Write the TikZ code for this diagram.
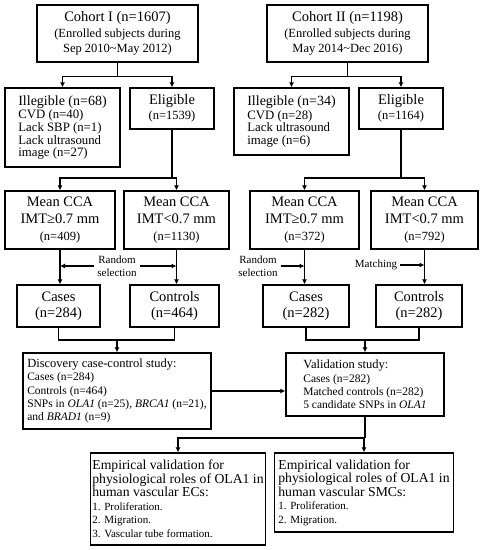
\documentclass[tikz,border=0pt]{standalone}
\usepackage{fontspec}
\setmainfont{Liberation Serif}
\usetikzlibrary{arrows.meta,calc,positioning}
\newcommand{\fbig}{\fontsize{14.5}{15.5}\selectfont}
\newcommand{\fmid}{\fontsize{12.5}{15}\selectfont}
\newcommand{\fsml}{\fontsize{11.5}{13.4}\selectfont}
\newcommand{\fexcl}{\fontsize{12.8}{12.6}\selectfont}
\tikzset{
  box/.style={draw,line width=1.3pt,align=center,inner sep=2pt,font=\fbig},
  meanbox/.style={box,minimum height=58,font=\fontsize{14.5}{17}\selectfont},
  lbox/.style={box,align=left,font=\fsml},
  link/.style={line width=1.3pt},
  arr/.style={link,-{Latex[length=5pt,width=5pt]}},
  note/.style={align=center,inner sep=3pt,font=\fontsize{11}{13}\selectfont},
}

\begin{document}
\begin{tikzpicture}[x=1pt,y=-1pt]
\useasboundingbox (0,0) rectangle (480,550);
\node[box,minimum width=161,minimum height=57] (cohA) at (117.5,33.5)
  {Cohort I (n=1607)\\{\fmid (Enrolled subjects during}\\{\fmid Sep 2010\textasciitilde May 2012)}};
\node[box,minimum width=161,minimum height=57] (cohB) at (347.5,33.5)
  {Cohort II (n=1198)\\{\fmid (Enrolled subjects during}\\{\fmid May 2014\textasciitilde Dec 2016)}};
\node[lbox,font=\fexcl,minimum width=115,minimum height=79] (illA) at (62.5,127.5)
  {{\fontsize{14}{15}\selectfont Illegible (n=68)}\\[1pt]CVD (n=40)\\Lack SBP (n=1)\\Lack ultrasound\\image (n=27)};
\node[box,minimum width=84,minimum height=41] (eligA) at (172,108.5) {Eligible\\{\fmid (n=1539)}};
\node[lbox,font=\fexcl,minimum width=115,minimum height=67] (illB) at (291.5,121.5)
  {{\fontsize{14}{15}\selectfont Illegible (n=34)}\\[1pt]CVD (n=28)\\Lack ultrasound\\image (n=6)};
\node[box,minimum width=84,minimum height=41] (eligB) at (401,108.5) {Eligible\\{\fmid (n=1164)}};
\node[meanbox,minimum width=110] (meanA1) at (60,220) {Mean CCA\\IMT≥0.7 mm\\{\fmid (n=409)}};
\node[meanbox,minimum width=105] (meanA2) at (176.5,220) {Mean CCA\\IMT<0.7 mm\\{\fmid (n=1130)}};
\node[meanbox,minimum width=109] (meanB1) at (304.5,220) {Mean CCA\\IMT≥0.7 mm\\{\fmid (n=372)}};
\node[meanbox,minimum width=107] (meanB2) at (424.5,220) {Mean CCA\\IMT<0.7 mm\\{\fmid (n=792)}};
\node[box,minimum width=83,minimum height=42] (casA) at (58.5,306) {Cases\\(n=284)};
\node[box,minimum width=89,minimum height=42] (conA) at (174.5,306) {Controls\\(n=464)};
\node[box,minimum width=86,minimum height=42] (casB) at (306,306) {Cases\\(n=282)};
\node[box,minimum width=86,minimum height=42] (conB) at (419,306) {Controls\\(n=282)};
\node[note] (randA) at (117,266) {Random\\selection};
\node[note] (randB) at (258,266) {Random\\selection};
\node[note] (matchB) at (376,265) {Matching};
\node[lbox,minimum width=188,minimum height=76] (disc) at (117,391)
  {{\fmid Discovery case-control study:}\\Cases (n=284)\\Controls (n=464)\\SNPs in \textit{OLA1} (n=25), \textit{BRCA1} (n=21),\\and \textit{BRAD1} (n=9)};
\node[lbox,minimum width=158,minimum height=63] (valid) at (365,384.5)
  {{\fmid Validation study:}\\Cases (n=282)\\Matched controls (n=282)\\5 candidate SNPs in \textit{OLA1}};
\node[lbox,font=\fontsize{11}{13.5}\selectfont,minimum width=174,minimum height=92] (ec) at (178,499)
  {{\fontsize{13.7}{15}\selectfont Empirical validation for}\\{\fontsize{13.7}{15}\selectfont physiological roles of OLA1 in}\\{\fontsize{13.7}{15}\selectfont human vascular ECs:}\\1. Proliferation.\\2. Migration.\\3. Vascular tube formation.};
\node[lbox,font=\fontsize{11}{13.5}\selectfont,minimum width=179,minimum height=79] (smc) at (364,492.5)
  {{\fontsize{13.7}{15}\selectfont Empirical validation for}\\{\fontsize{13.7}{15}\selectfont physiological roles of OLA1 in}\\{\fontsize{13.7}{15}\selectfont human vascular SMCs:}\\1. Proliferation.\\2. Migration.};

\draw[link] (cohA.south) -- ++(0,14) coordinate (jA);
\draw[arr] (jA) -| (illA.north);
\draw[arr] (jA) -| (eligA.north);
\draw[link] (cohB.south) -- ++(0,14) coordinate (jB);
\draw[arr] (jB) -| (illB.north);
\draw[arr] (jB) -| (eligB.north);
\coordinate (jA2) at (eligA.south |- 0,178);
\coordinate (jB2) at (eligB.south |- 0,178);
\draw[link] (eligA.south) -- (jA2);
\draw[link] (eligB.south) -- (jB2);
\foreach \j/\m in {jA2/meanA1,jA2/meanA2,jB2/meanB1,jB2/meanB2}
  \draw[arr] (\j) -| (\m.north);
\foreach \m/\c in {meanA1/casA,meanA2/conA,meanB1/casB,meanB2/conB}
  \draw[arr] (\m.south) -- (\m.south |- \c.north);
\draw[arr] (randA.west) -- (randA.west -| meanA1.south);
\draw[arr] (randA.east) -- (randA.east -| meanA2.south);
\draw[arr] (randB.east) -- (randB.east -| meanB1.south);
\draw[arr] (matchB.east) -- (matchB.east -| meanB2.south);
\coordinate (jD) at (disc.north |- 0,340);
\coordinate (jV) at (valid.north |- 0,340);
\draw[link] (casA.south) |- (jD) -| (conA.south);
\draw[link] (casB.south) |- (jV) -| (conB.south);
\draw[arr] (jD) -- (disc.north);
\draw[arr] (jV) -- (valid.north);
\draw[arr] (disc.east) -- (disc.east -| valid.west);
\coordinate (jE) at (valid.south |- 0,438);
\draw[link] (valid.south) -- (jE);
\draw[arr] (jE) -| (ec.north);
\draw[arr] (jE) -| (smc.north);
\end{tikzpicture}
\end{document}
